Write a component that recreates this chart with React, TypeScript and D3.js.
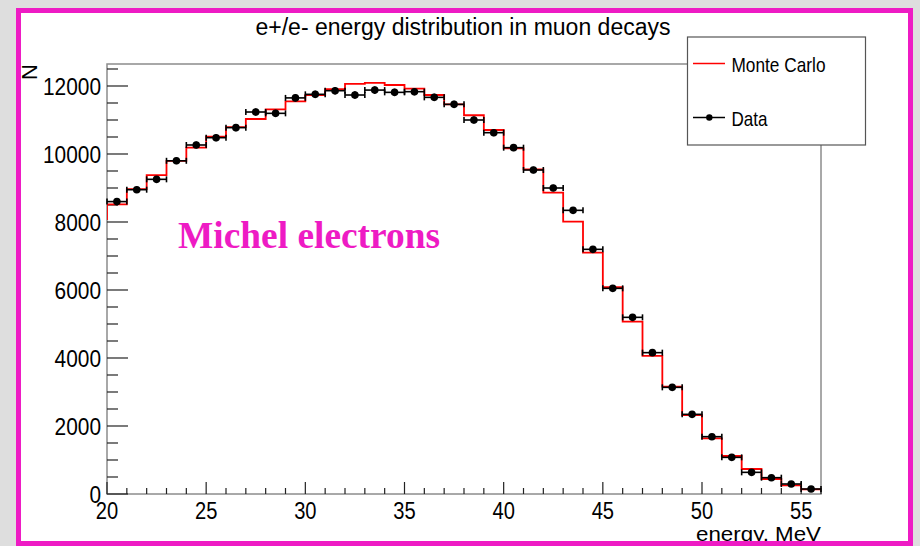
import React from "react";
import * as d3 from "d3";

// Energy bins (MeV): lower edges, 1 MeV wide
const binLow: number[] = [
  20, 21, 22, 23, 24, 25, 26, 27, 28, 29, 30, 31, 32, 33, 34, 35, 36, 37,
  38, 39, 40, 41, 42, 43, 44, 45, 46, 47, 48, 49, 50, 51, 52, 53, 54, 55,
];

// Measured counts per bin
const dataCounts: number[] = [
  8600, 8950, 9255, 9800, 10265, 10480, 10775, 11235, 11196, 11650, 11755, 11862,
  11735, 11880, 11813, 11833, 11666, 11460, 11000, 10627, 10186, 9529, 9000, 8343,
  7196, 6049, 5196, 4157, 3137, 2343, 1686, 1078, 637, 480, 294, 147,
];

// Monte Carlo prediction per bin
const mcCounts: number[] = [
  8520, 8965, 9380, 9800, 10190, 10510, 10790, 11030, 11315, 11550, 11735, 11910,
  12060, 12090, 12030, 11920, 11735, 11460, 11140, 10706, 10167, 9550, 8862, 8010,
  7098, 6085, 5068, 4060, 3157, 2323, 1637, 1117, 735, 441, 255, 137,
];
// Monte Carlo content of the bin just below the displayed range (19-20 MeV)
const mcBelowRange = 8060;

const xTicks: number[] = [20, 25, 30, 35, 40, 45, 50, 55];
const yTicks: number[] = [0, 2000, 4000, 6000, 8000, 10000, 12000];

const titleText = "e+/e- energy distribution in muon decays";
const xTitle = "energy, MeV";
const yTitle = "N";
const legendLabels: string[] = ["Monte Carlo", "Data"];
const annotation = "Michel electrons";

const W = 920;
const H = 546;
const frame = { left: 107, right: 821, top: 64, bottom: 494 };
const MAGENTA = "#ee1bc4";
const SANS = "'Liberation Sans', Arial, Helvetica, sans-serif";

export default function App() {
  const x = d3.scaleLinear().domain([20, 56]).range([frame.left, frame.right]);
  const y = d3.scaleLinear().domain([0, 12647]).range([frame.bottom, frame.top]);
  const binW = 1;

  // MC step histogram
  const stepPts: [number, number][] = [[20, mcBelowRange]];
  binLow.forEach((lo, i) => {
    stepPts.push([lo, mcCounts[i]]);
    stepPts.push([lo + binW, mcCounts[i]]);
  });
  const stepPath = d3
    .line<[number, number]>()
    .x((d) => x(d[0]))
    .y((d) => y(d[1]))(stepPts) as string;

  const minorX = d3.range(20, 57, 1);
  const minorY = d3.range(0, 12647, 500);

  const digitW = 11.6;
  const xDigitW = 11.2;

  return (
    <div style={{ position: "absolute", left: 0, top: 0 }}>
      <svg width={W} height={H} style={{ display: "block" }}>
        <rect x={0} y={0} width={W} height={H} fill="#dedede" />
        <rect x={18} y={10} width={892} height={534} fill="#ffffff" />

        {/* title */}
        <text
          x={463 - 207.5}
          y={35}
          fontFamily={SANS}
          fontSize={23}
          textLength={415}
          lengthAdjust="spacingAndGlyphs"
          fill="#000"
        >
          {titleText}
        </text>

        <clipPath id="plotClip">
          <rect x={frame.left} y={frame.top} width={frame.right - frame.left} height={frame.bottom - frame.top} />
        </clipPath>

        {/* frame */}
        <rect
          x={frame.left}
          y={frame.top}
          width={frame.right - frame.left}
          height={frame.bottom - frame.top}
          fill="none"
          stroke="#8c8c8c"
          strokeWidth={1.5}
        />

        {/* y ticks */}
        {minorY.map((v) => {
          const major = v % 2000 === 0;
          return (
            <line
              key={"yt" + v}
              x1={frame.left}
              x2={frame.left + (major ? 21 : 11)}
              y1={y(v)}
              y2={y(v)}
              stroke="#222"
              strokeWidth={1.2}
            />
          );
        })}
        {/* x ticks */}
        {minorX.map((v) => {
          const major = v % 5 === 0;
          return (
            <line
              key={"xt" + v}
              x1={x(v)}
              x2={x(v)}
              y1={frame.bottom}
              y2={frame.bottom - (major ? 12 : 6)}
              stroke="#222"
              strokeWidth={1.2}
            />
          );
        })}

        {/* y tick labels */}
        {yTicks.map((v) => {
          const s = String(v);
          const len = s.length * digitW;
          return (
            <text
              key={"yl" + v}
              x={101 - len}
              y={y(v) + 9}
              fontFamily={SANS}
              fontSize={24}
              textLength={len}
              lengthAdjust="spacingAndGlyphs"
              fill="#000"
            >
              {s}
            </text>
          );
        })}
        {/* x tick labels */}
        {xTicks.map((v) => {
          const s = String(v);
          const len = s.length * xDigitW;
          return (
            <text
              key={"xl" + v}
              x={x(v) - len / 2}
              y={519}
              fontFamily={SANS}
              fontSize={24}
              textLength={len}
              lengthAdjust="spacingAndGlyphs"
              fill="#000"
            >
              {s}
            </text>
          );
        })}

        {/* axis titles */}
        <text
          transform={`translate(37,${frame.top}) rotate(-90)`}
          textAnchor="end"
          fontFamily={SANS}
          fontSize={22}
          fill="#000"
        >
          {yTitle}
        </text>
        <text
          x={frame.right - 125}
          y={541}
          fontFamily={SANS}
          fontSize={21}
          textLength={125}
          lengthAdjust="spacingAndGlyphs"
          fill="#000"
        >
          {xTitle}
        </text>

        {/* MC histogram */}
        <g clipPath="url(#plotClip)">
          <path d={stepPath} fill="none" stroke="#ff0000" strokeWidth={1.8} />
        </g>

        {/* data points with error bars */}
        <g>
          {binLow.map((lo, i) => {
            const cx = x(lo + binW / 2);
            const cy = y(dataCounts[i]);
            const x0 = x(lo);
            const x1 = x(lo + binW);
            const err = Math.sqrt(dataCounts[i]);
            return (
              <g key={"d" + i} stroke="#000" strokeWidth={1.6}>
                <line x1={x0} x2={x1} y1={cy} y2={cy} />
                <line x1={x0} x2={x0} y1={cy - 3} y2={cy + 3} />
                <line x1={x1} x2={x1} y1={cy - 3} y2={cy + 3} />
                <line x1={cx} x2={cx} y1={y(dataCounts[i] + err)} y2={y(dataCounts[i] - err)} />
                <circle cx={cx} cy={cy} r={3.8} fill="#000" stroke="none" />
              </g>
            );
          })}
        </g>

        {/* annotation */}
        <text
          x={178}
          y={248}
          fontFamily="'Liberation Serif', 'Times New Roman', serif"
          fontWeight="bold"
          fontSize={37}
          textLength={262}
          lengthAdjust="spacingAndGlyphs"
          fill={MAGENTA}
        >
          {annotation}
        </text>

        {/* legend */}
        <rect x={687.5} y={37} width={178} height={108} fill="#fff" stroke="#555" strokeWidth={1.2} />
        <line x1={693} x2={725} y1={63.5} y2={63.5} stroke="#ff0000" strokeWidth={1.5} />
        <text
          x={731.5}
          y={72}
          fontFamily={SANS}
          fontSize={21}
          textLength={94}
          lengthAdjust="spacingAndGlyphs"
          fill="#000"
        >
          {legendLabels[0]}
        </text>
        <line x1={693} x2={725} y1={117.5} y2={117.5} stroke="#000" strokeWidth={1.5} />
        <circle cx={709.3} cy={117.5} r={3.2} fill="#000" />
        <text
          x={731.5}
          y={125.5}
          fontFamily={SANS}
          fontSize={21}
          textLength={36}
          lengthAdjust="spacingAndGlyphs"
          fill="#000"
        >
          {legendLabels[1]}
        </text>

        {/* page border */}
        <rect x={18.5} y={10.5} width={892} height={533} fill="none" stroke={MAGENTA} strokeWidth={5} />
      </svg>
    </div>
  );
}
